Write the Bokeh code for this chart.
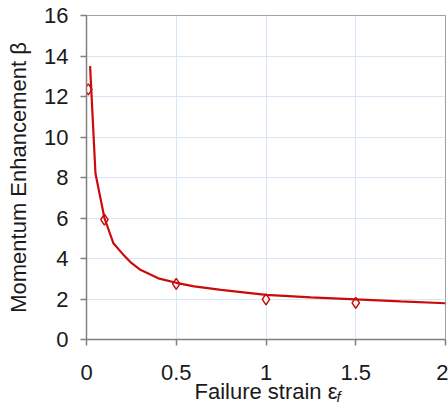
from bokeh.plotting import figure
from bokeh.models import Range1d, FixedTicker, LinearAxis
from bokeh.embed import file_html
from bokeh.resources import INLINE

# measured points (open diamonds)
strain_pts = [0.01, 0.1, 0.5, 1.0, 1.5]
beta_pts = [12.35, 5.92, 2.75, 1.98, 1.81]

# fitted curve (red line)
strain_curve = [0.02, 0.05, 0.1, 0.15, 0.2, 0.25, 0.3, 0.4, 0.5, 0.6, 0.75, 1.0, 1.25, 1.5, 1.75, 2.0]
beta_curve = [13.5, 8.2, 6.0, 4.75, 4.24, 3.78, 3.44, 3.02, 2.8, 2.62, 2.45, 2.2, 2.08, 1.98, 1.88, 1.79]

x_ticks = [0, 0.5, 1, 1.5, 2]
x_tick_labels = ["0", "0.5", "1", "1.5", "2"]
y_ticks = [0, 2, 4, 6, 8, 10, 12, 14, 16]

y_title = "Momentum Enhancement \u03b2"
x_title_main = "Failure strain \u03b5"
x_title_sub = "f"
SUB_POS = 1.405   # horizontal anchor of the subscript, in x units

FONT = "Liberation Sans"
RED = "#cc0a0a"
GRID = "#d8e7f8"
AXIS = "#808080"
TXT = "#1a1a1a"

p = figure(frame_width=359, frame_height=324,
           min_border_left=86, min_border_right=3, min_border_top=15, min_border_bottom=66,
           x_range=Range1d(0, 2), y_range=Range1d(0, 16),
           output_backend="svg", toolbar_location=None)

p.outline_line_color = "#a0a0a0"
p.outline_line_width = 1

p.xaxis.ticker = FixedTicker(ticks=x_ticks)
p.yaxis.ticker = FixedTicker(ticks=y_ticks)
p.xaxis.major_label_overrides = {t: l for t, l in zip(x_ticks, x_tick_labels)}
p.yaxis.axis_label = y_title
p.xaxis.axis_label = x_title_main

for ax in (p.xaxis[0], p.yaxis[0]):
    ax.axis_line_color = AXIS
    ax.axis_line_width = 1.5
    ax.major_tick_line_color = AXIS
    ax.major_tick_line_width = 1.5
    ax.major_tick_in = 0
    ax.major_tick_out = 6
    ax.minor_tick_line_color = None
    ax.major_label_text_font = FONT
    ax.major_label_text_font_size = "22px"
    ax.major_label_text_color = TXT
    ax.axis_label_text_font = FONT
    ax.axis_label_text_font_size = "22px"
    ax.axis_label_text_font_style = "normal"
    ax.axis_label_text_color = TXT
    ax.major_label_standoff = 12
    ax.axis_label_standoff = 10
p.xaxis.major_label_standoff = 19
p.xaxis.axis_label_standoff = -4

# italic subscript "f" of the x title, drawn as the only label of a bare axis
sub_axis = LinearAxis(ticker=FixedTicker(ticks=[SUB_POS]),
                      major_label_overrides={SUB_POS: x_title_sub},
                      axis_line_color=None, major_tick_line_color=None,
                      minor_tick_line_color=None, major_tick_in=0, major_tick_out=0,
                      major_label_text_font=FONT, major_label_text_font_size="15px",
                      major_label_text_font_style="italic", major_label_text_color=TXT,
                      major_label_standoff=-19)
p.add_layout(sub_axis, "below")

p.xgrid.grid_line_color = GRID
p.ygrid.grid_line_color = GRID
p.xgrid.grid_line_width = 1
p.ygrid.grid_line_width = 1

p.line(strain_curve, beta_curve, line_color=RED, line_width=2.2)
p.scatter(strain_pts, beta_pts, marker="diamond", size=11, fill_color="white",
          fill_alpha=0.0, line_color=RED, line_width=1.5)

open("out.html", "w").write(file_html(p, INLINE))
